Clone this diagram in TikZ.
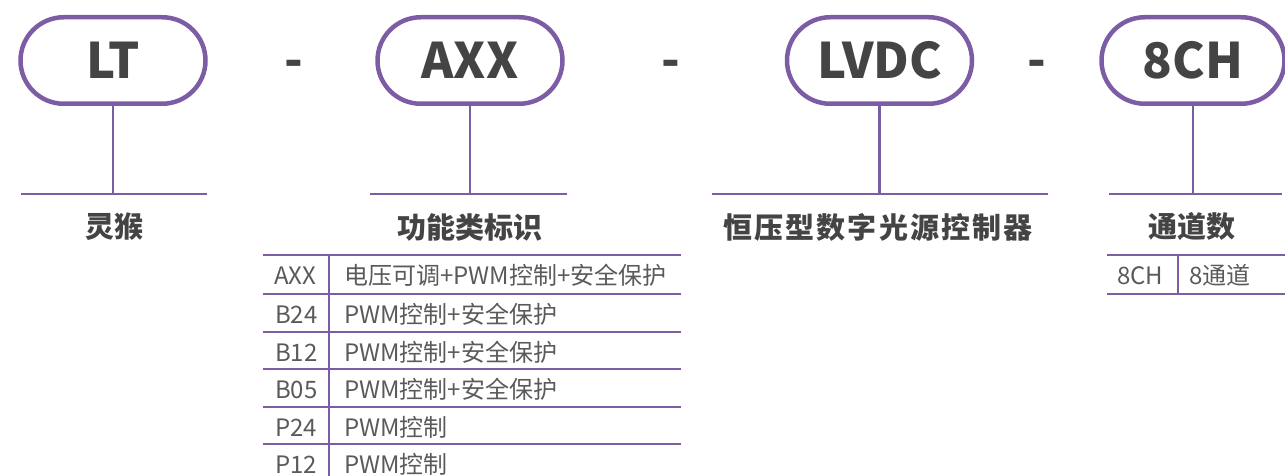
\documentclass[tikz,border=0pt]{standalone}
\usepackage{fontspec}
\setmainfont{Noto Sans CJK SC}
\usetikzlibrary{shapes.misc}
\definecolor{purp}{RGB}{125,92,166}
\definecolor{txtdark}{RGB}{68,68,68}
\definecolor{txtgray}{RGB}{90,90,90}
\begin{document}
\begin{tikzpicture}[x=1pt,y=-1pt,
 pill/.style={rounded rectangle, draw=purp, line width=4.5pt, minimum width=185pt, minimum height=86.5pt, inner sep=0pt, text height=36pt, text depth=0pt, font=\fontsize{49}{58}\selectfont\bfseries, text=txtdark},
 sepdash/.style={anchor=base, inner sep=0pt, font=\fontsize{49}{58}\selectfont\bfseries, text=txtdark},
 conn/.style={draw=purp, line width=2.6pt},
 title/.style={font=\fontsize{29}{34}\selectfont\bfseries, text=txtdark, inner sep=0pt},
 cell/.style={anchor=base west, inner sep=0pt, font=\fontsize{24}{28}\selectfont, text=txtgray},
]
\useasboundingbox (0,0) rectangle (1285,476);
% pills
\node[pill] (p1) at (113,60.5) {LT};
\node[pill] (p2) at (470,60.5) {AXX};
\node[pill] (p3) at (879.5,60.5) {LVDC};
\node[pill, minimum width=183pt] (p4) at (1193,60.5) {8CH};
% dashes
\node[sepdash] (s1) at (294,78) {-};
\node[sepdash] (s2) at (671,78) {-};
\node[sepdash] (s3) at (1037,78) {-};
% horizontal bars
\coordinate (h1a) at (21,194); \coordinate (h1b) at (207,194);
\coordinate (h2a) at (370,194); \coordinate (h2b) at (567,194);
\coordinate (h3a) at (712,194); \coordinate (h3b) at (1048,194);
\coordinate (h4a) at (1109,194); \coordinate (h4b) at (1282,194);
\draw[conn] (h1a) -- (h1b);
\draw[conn] (h2a) -- (h2b);
\draw[conn] (h3a) -- (h3b);
\draw[conn] (h4a) -- (h4b);
\draw[conn] (p1.south) -- (p1.south |- h1a);
\draw[conn] (p2.south) -- (p2.south |- h2a);
\draw[conn] (p3.south) -- (p3.south |- h3a);
\draw[conn] (p4.south) -- (p4.south |- h4a);
% titles
\node[title] (t1) at (114,227) {灵猴};
\node[title] (t2) at (470,227) {功能类标识};
\node[title] (t3) at (878,227) {\addfontfeature{LetterSpace=7}恒压型数字光源控制器};
\node[title] (t4) at (1192,227) {通道数};
% left table
\foreach \yy in {255,294,332,369,407,444} \draw[conn] (263,\yy) -- (681,\yy);
\draw[conn] (329,255) -- (329,476);
\node[cell] (c1) at (274,284) {AXX};
\node[cell] (d1) at (344,284) {电压可调+PWM控制+安全保护};
\node[cell] (c2) at (275,323) {B24};
\node[cell] (d2) at (344,323) {PWM控制+安全保护};
\node[cell] (c3) at (275,361) {B12};
\node[cell] (d3) at (344,361) {PWM控制+安全保护};
\node[cell] (c4) at (275,398) {B05};
\node[cell] (d4) at (344,398) {PWM控制+安全保护};
\node[cell] (c5) at (275,436) {P24};
\node[cell] (d5) at (344,436) {PWM控制};
\node[cell] (c6) at (275,473) {P12};
\node[cell] (d6) at (344,473) {PWM控制};
% right table
\draw[conn] (1107,255) -- (1285,255);
\draw[conn] (1107,294) -- (1285,294);
\draw[conn] (1178,255) -- (1178,294);
\node[cell] (c7) at (1117,284) {8CH};
\node[cell] (d7) at (1189,284) {8通道};
\end{tikzpicture}
\end{document}
